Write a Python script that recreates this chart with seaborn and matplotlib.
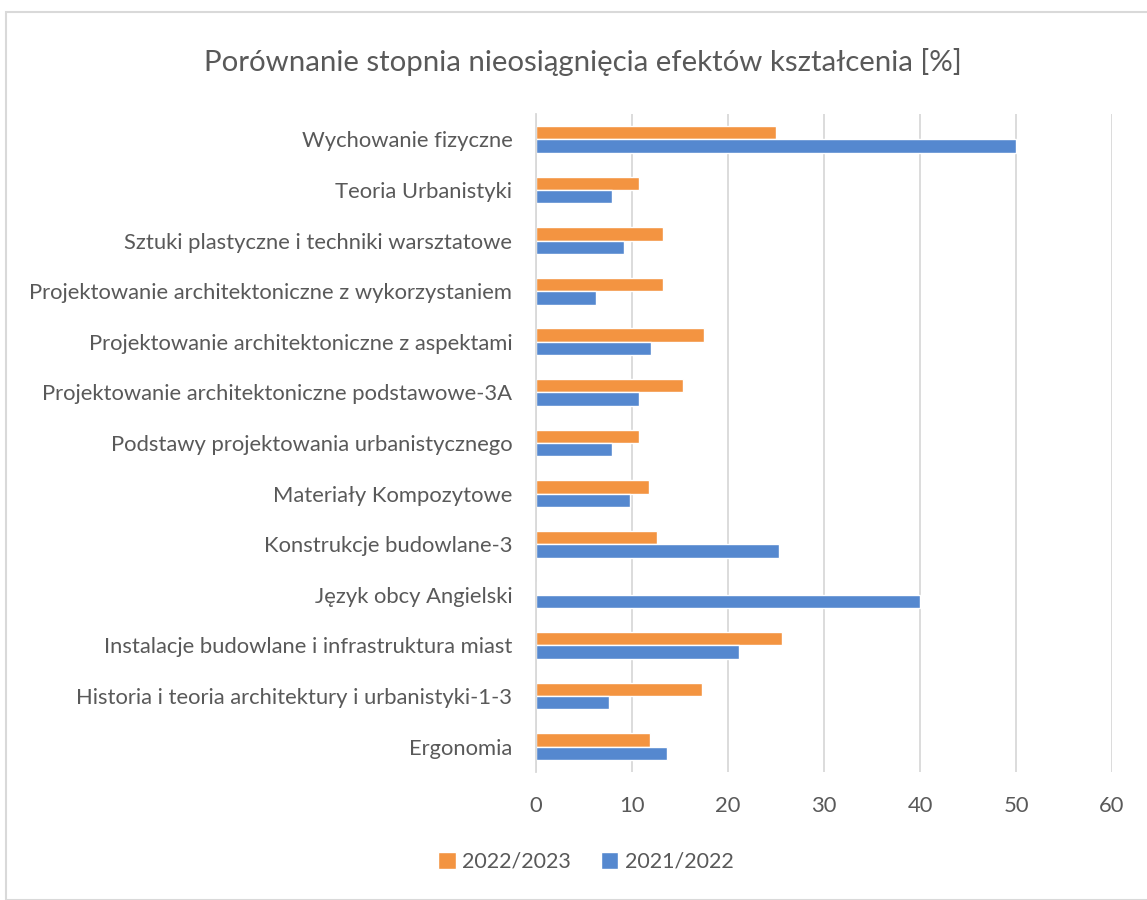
import matplotlib
matplotlib.use("Agg")
import matplotlib.pyplot as plt
import pandas as pd
import seaborn as sns
from matplotlib.patches import Rectangle

subjects = [
    "Wychowanie fizyczne",
    "Teoria Urbanistyki",
    "Sztuki plastyczne i techniki warsztatowe",
    "Projektowanie architektoniczne z wykorzystaniem",
    "Projektowanie architektoniczne z aspektami",
    "Projektowanie architektoniczne podstawowe-3A",
    "Podstawy projektowania urbanistycznego",
    "Materiały Kompozytowe",
    "Konstrukcje budowlane-3",
    "Język obcy Angielski",
    "Instalacje budowlane i infrastruktura miast",
    "Historia i teoria architektury i urbanistyki-1-3",
    "Ergonomia",
]
values_2022_2023 = [25.0, 10.7, 13.2, 13.2, 17.5, 15.3, 10.7, 11.8, 12.6, 0.0, 25.6, 17.3, 11.9]
values_2021_2022 = [50.0, 7.9, 9.2, 6.2, 12.0, 10.7, 7.9, 9.8, 25.3, 40.0, 21.1, 7.6, 13.6]
years = ["2022/2023", "2021/2022"]
colors = {"2022/2023": "#F39441", "2021/2022": "#5588CF"}

df = pd.concat([
    pd.DataFrame({"subject": subjects, "value": values_2022_2023, "year": years[0]}),
    pd.DataFrame({"subject": subjects, "value": values_2021_2022, "year": years[1]}),
], ignore_index=True)

sns.set_style("white")
plt.rcParams["font.family"] = ["Lato", "DejaVu Sans"]
text_color = "#595959"

fig = plt.figure(figsize=(11.47, 9), dpi=100)
ax = fig.add_axes([536 / 1147, 1 - 772 / 900, (1112 - 536) / 1147, (772 - 114) / 900])

sns.barplot(data=df, y="subject", x="value", hue="year", order=subjects, hue_order=years,
            palette=colors, width=0.53, orient="h", ax=ax, saturation=1, legend=True)

ax.set_xlim(0, 60)
ax.set_xticks(range(0, 61, 10))
ax.grid(axis="x", color="#d9d9d9", linewidth=1.3)
ax.set_axisbelow(True)
for side in ["top", "right", "bottom"]:
    ax.spines[side].set_visible(False)
ax.spines["left"].set_color("#d9d9d9")
ax.spines["left"].set_linewidth(1.3)
ax.tick_params(axis="both", length=0, labelsize=15.8, colors=text_color)
ax.tick_params(axis="x", pad=17)
ax.tick_params(axis="y", pad=17)
ax.set_xlabel("")
ax.set_ylabel("")

ax.legend(loc="upper center", bbox_to_anchor=(50 / 576, -0.092), ncol=2, frameon=False,
          fontsize=15.5, labelcolor=text_color, handlelength=0.8, handleheight=0.8,
          handletextpad=0.3, columnspacing=1.4)

fig.text(583 / 1147, 1 - 62 / 900, "Porównanie stopnia nieosiągnięcia efektów kształcenia [%]",
         ha="center", va="center", fontsize=21.2, color=text_color)

fig.patches.append(Rectangle((6 / 1147, 0), 1.0, 1 - 12 / 900, transform=fig.transFigure,
                             fill=False, edgecolor="#d9d9d9", linewidth=1.5))

fig.savefig("out.png", dpi=100)
